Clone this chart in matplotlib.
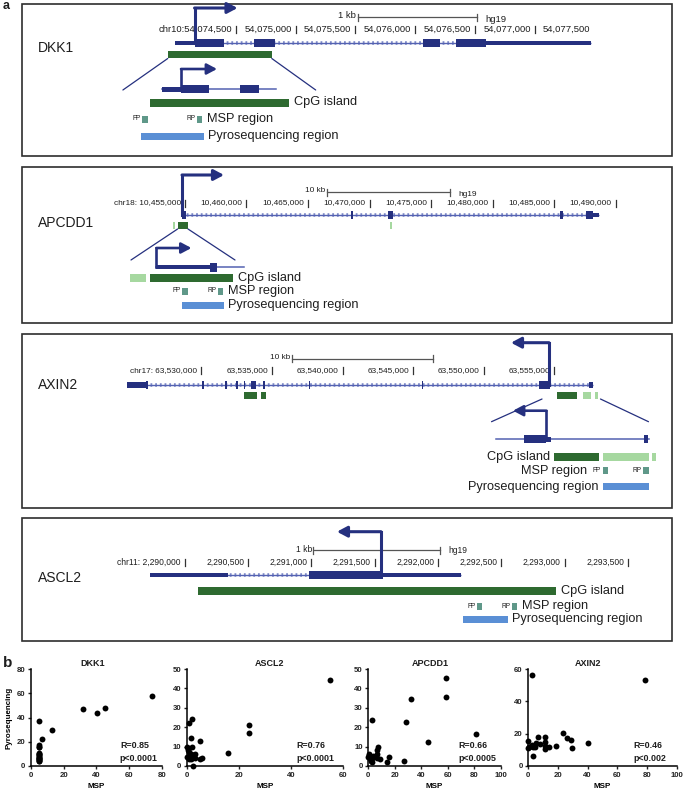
import numpy as np
import matplotlib
matplotlib.use('Agg')
import matplotlib.pyplot as plt
from matplotlib.patches import Rectangle, ConnectionPatch
from matplotlib import font_manager

# ======================= DATA =======================
# ---- panel a : gene models, hg19 coordinates (bp) ----
DKK1_TICKS = [54074500, 54075000, 54075500, 54076000, 54076500, 54077000, 54077500]
DKK1_GENE = (54073990, 54077470)
DKK1_UTR = [(54073990, 54074155), (54076592, 54077470)]
DKK1_EXONS = [(54074155, 54074400), (54074655, 54074824), (54076065, 54076207), (54076338, 54076592)]
DKK1_CPG = [(54073931, 54074801)]
DKK1_TSS = 54074155
DKK1_SCALEBAR = (54075520, 1000)
DKK1_ZOOM = (54073673, 54075285)
DKK1_ZOOM_FROM = (54073931, 54074801)
DKK1_ZOOM_GENE = (54074003, 54074956)
DKK1_ZOOM_UTR = [(54074003, 54074159)]
DKK1_ZOOM_EXONS = [(54074159, 54074397), (54074648, 54074809)]
DKK1_ZOOM_TSS = 54074159
DKK1_ZOOM_CPG = [(54073898, 54075060)]
DKK1_FP = (54073833, 54073880)
DKK1_RP = (54074293, 54074337)
DKK1_PYRO_REGION = (54073823, 54074348)

APCDD1_TICKS = [10455000, 10460000, 10465000, 10470000, 10475000, 10480000, 10485000, 10490000]
APCDD1_GENE = (10454773, 10488628)
APCDD1_UTR = [(10488149, 10488628)]
APCDD1_EXONS = [(10454773, 10455073), (10468480, 10468620), (10471461, 10471908),
                (10485470, 10485714), (10487556, 10488149)]
APCDD1_CPG = [(10454415, 10455260)]
APCDD1_CPG_LIGHT = [(10454042, 10454204), (10471664, 10471826)]
APCDD1_TSS = 10454773
APCDD1_SCALEBAR = (10466548, 10000)
APCDD1_ZOOM = (10454224, 10455283)
APCDD1_ZOOM_FROM = (10454415, 10455260)
APCDD1_ZOOM_GENE = (10454483, 10455374)
APCDD1_ZOOM_UTR = [(10454483, 10455028)]
APCDD1_ZOOM_EXONS = [(10455028, 10455099)]
APCDD1_ZOOM_TSS = 10454483
APCDD1_ZOOM_CPG = [(10454415, 10455260)]
APCDD1_ZOOM_CPG_LIGHT = [(10454209, 10454376)]
APCDD1_FP = (10454748, 10454804)
APCDD1_RP = (10455110, 10455160)
APCDD1_PYRO_REGION = (10454748, 10455169)

AXIN2_TICKS = [63530000, 63535000, 63540000, 63545000, 63550000, 63555000]
AXIN2_GENE = (63524703, 63557741)
AXIN2_UTR = [(63524703, 63526100), (63557458, 63557741)]
AXIN2_EXONS = [(63526100, 63526250), (63530040, 63530160), (63531690, 63531810), (63532470, 63532590),
               (63533000, 63533120), (63533506, 63533874), (63534360, 63534480), (63537600, 63537720),
               (63545600, 63545720), (63553916, 63554695)]
AXIN2_CPG = [(63533024, 63533973), (63534200, 63534611), (63555191, 63556586)]
AXIN2_CPG_LIGHT = [(63557000, 63557600), (63557850, 63558100)]
AXIN2_TSS = 63554624
AXIN2_SCALEBAR = (63536423, 10000)
AXIN2_ZOOM = (63553775, 63557918)
AXIN2_ZOOM_FROM = (63554130, 63558270)
AXIN2_ZOOM_GENE = (63553894, 63557918)
AXIN2_ZOOM_UTR = [(63555226, 63555345)]
AXIN2_ZOOM_EXONS = [(63554633, 63555226), (63557800, 63557918)]
AXIN2_ZOOM_TSS = 63555226
AXIN2_ZOOM_CPG = [(63555424, 63556612)]
AXIN2_ZOOM_CPG_LIGHT = [(63556730, 63557918), (63558010, 63558129)]
AXIN2_FP = (63556709, 63556849)
AXIN2_RP = (63557772, 63557918)
AXIN2_PYRO_REGION = (63556730, 63557918)

ASCL2_TICKS = [2290000, 2290500, 2291000, 2291500, 2292000, 2292500, 2293000, 2293500]
ASCL2_GENE = (2289723, 2292178)
ASCL2_UTR = [(2289723, 2290343), (2291565, 2292178)]
ASCL2_EXONS = [(2290980, 2291565)]
ASCL2_TSS = 2291549
ASCL2_SCALEBAR = (2291016, 1000)
ASCL2_CPG = [(2290103, 2292929)]
ASCL2_FP = (2292308, 2292344)
ASCL2_RP = (2292584, 2292624)
ASCL2_PYRO_REGION = (2292196, 2292550)

# ---- panel b : methylation (%) MSP vs pyrosequencing ----
DKK1_MSP = [4.8] * 17 + [7, 13, 32, 40.5, 45.5, 74]
DKK1_PYRO = [37.5, 17, 16, 15.5, 11, 10, 9.5, 9, 8, 7.5, 7, 6.5, 6, 5.5, 5, 4.5, 4,
             22, 29.5, 47, 44, 47.5, 58]
ASCL2_MSP = [55, 24, 24, 16, 2, 0.7, 1.5, 5, 0, 2, 0.5, 1, 1.5, 2.5, 3, 0.8, 2, 3.2, 1, 2.5, 5, 5.8, 0.3, 1.8]
ASCL2_PYRO = [44.5, 21, 17, 6.5, 24, 22, 14.5, 12.8, 10, 9.8, 8, 7, 6, 5.5, 6, 5, 4, 4.2, 3.8, 0.2, 3.8, 4, 4.5, 3.5]
APCDD1_MSP = [59, 58.5, 32, 3, 28.5, 81, 45, 27, 14, 16, 7, 6.8, 6.8, 6.3, 8.8, 0, 0.8, 1.8, 3, 2.5, 1.3, 3.8, 0.5, 2]
APCDD1_PYRO = [45.3, 35.8, 34.5, 23.5, 22.7, 16.3, 12.2, 2.5, 2.3, 4.7, 9.8, 8.2, 6.1, 3.9, 3.4, 4.8, 6.1, 3, 4, 2.2, 4.3, 5.1, 5.5, 2.8]
AXIN2_MSP = [2.2, 78.5, 23.5, 26, 29, 29.5, 40, 19, 14, 6.5, 11.5, 11.5, 11.5, 11, 7.7, 5.5, 0, 0.4, 2.2, 0, 4.4, 3.3, 1.5, 3]
AXIN2_PYRO = [56, 53.2, 20.2, 17.5, 16, 11, 14, 12.2, 11.6, 18.2, 18.2, 14.6, 12.6, 10.8, 13.6, 14.2, 15.6, 12, 13, 11.4, 11.6, 6.2, 12.5, 11.8]
STATS = {'DKK1': ('0.85', '0.0001'), 'ASCL2': ('0.76', '0.0001'),
         'APCDD1': ('0.66', '0.0005'), 'AXIN2': ('0.46', '0.002')}

# ======================= STYLE =======================
W, H = 685, 795
NAVY = '#25307f'
INTRON_C = '#5462b2'
HATCH_C = '#7e8ac8'
CPG_DARK = '#2e6a30'
CPG_LIGHT = '#a6d8a0'
PRIMER_C = '#5f9889'
PYRO_C = '#5a8fd5'
TXT = '#1e1e1e'
GRAY = '#555555'


def font_ok(name):
    try:
        font_manager.findfont(font_manager.FontProperties(family=name), fallback_to_default=False)
        return True
    except Exception:
        return False


SANS = 'Liberation Sans' if font_ok('Liberation Sans') else 'DejaVu Sans'
HAS_NARROW = font_ok('Liberation Sans Narrow')
NARROW = 'Liberation Sans Narrow' if HAS_NARROW else SANS
NSCALE = 1.0 if HAS_NARROW else 0.83
plt.rcParams['font.family'] = [SANS, 'DejaVu Sans']
plt.rcParams['text.color'] = TXT

LAB_FS = 9.2
GENE_FS = 10

fig = plt.figure(figsize=(W / 100, H / 100), dpi=100)
bg = fig.add_axes([0, 0, 1, 1])
bg.set_xlim(0, W)
bg.set_ylim(H, 0)
bg.set_axis_off()

BOX_L, BOX_R = 22, 672


def panel_axes(top, bottom, ref, ref_px, px_per_bp):
    xlim = (ref - (ref_px - BOX_L) / px_per_bp, ref + (BOX_R - ref_px) / px_per_bp)
    ax = fig.add_axes([BOX_L / W, 1 - bottom / H, (BOX_R - BOX_L) / W, (bottom - top) / H])
    ax.set_xlim(*xlim)
    ax.set_ylim(bottom, top)
    ax.set_axis_off()
    ax.patch.set_alpha(0)
    bg.add_patch(Rectangle((BOX_L, top), BOX_R - BOX_L, bottom - top, fill=False,
                           edgecolor='#2e2e2e', lw=1.2))
    return ax


def zoom_axes(top, bottom, window, px0, px1):
    ax = fig.add_axes([px0 / W, 1 - bottom / H, (px1 - px0) / W, (bottom - top) / H])
    ax.set_xlim(*window)
    ax.set_ylim(bottom, top)
    ax.set_axis_off()
    ax.patch.set_alpha(0)
    return ax


def bpp(ax):
    x0, x1 = ax.get_xlim()
    return (x1 - x0) / (ax.get_position().width * W)


def rect(ax, a, b, y, h, color, z=3, minw=1.8):
    w = max(b - a, minw * bpp(ax))
    ax.add_patch(Rectangle((a, y - h / 2), w, h, facecolor=color, edgecolor='none',
                           zorder=z, clip_on=False))


def intron(ax, a, b, y):
    ax.plot([a, b], [y, y], color=HATCH_C, lw=2.6, dashes=(0.5, 0.8), zorder=2,
            dash_capstyle='butt', clip_on=False)
    ax.plot([a, b], [y, y], color=INTRON_C, lw=1.0, zorder=2, solid_capstyle='butt', clip_on=False)


def draw_gene(ax, span, utrs, exons, y, hatched=True, exon_h=8, utr_h=4.5):
    if hatched:
        intron(ax, span[0], span[1], y)
    else:
        ax.plot(span, [y, y], color=INTRON_C, lw=1.1, zorder=2, clip_on=False)
    for a, b in utrs:
        rect(ax, a, b, y, utr_h, NAVY)
    for a, b in exons:
        rect(ax, a, b, y, exon_h, NAVY)


def tss(ax, x, y0, y1, strand, length_px, lw):
    b = bpp(ax)
    ax.plot([x, x], [y0, y1], color=NAVY, lw=lw, solid_capstyle='projecting', zorder=5, clip_on=False)
    ax.annotate('', xy=(x + strand * length_px * b, y1), xytext=(x, y1),
                arrowprops=dict(arrowstyle='-|>,head_length=0.6,head_width=0.32', lw=lw,
                                color=NAVY, shrinkA=0, shrinkB=0), zorder=5, annotation_clip=False)


def coords(ax, ticks, chrom, y, fs, last_tick=True):
    b = bpp(ax)
    for i, t in enumerate(ticks):
        s = f"{t:,}"
        if i == 0:
            s = chrom + s
        ax.text(t - 4 * b, y, s, ha='right', va='center', fontsize=fs * NSCALE, family=NARROW)
        if i < len(ticks) - 1 or last_tick:
            ax.plot([t, t], [y - 3.5, y + 3.5], color='#333333', lw=0.9)


def scalebar(ax, sb, label, y, fs, hg19=True, hg_dy=3):
    b = bpp(ax)
    start, length = sb
    ax.plot([start, start + length], [y, y], color=GRAY, lw=0.9)
    for xx in (start, start + length):
        ax.plot([xx, xx], [y - 3.5, y + 3.5], color=GRAY, lw=0.9)
    ax.text(start - 1.5 * b, y - 1, label, ha='right', va='center', fontsize=fs * NSCALE, family=NARROW)
    if hg19:
        ax.text(start + length + 8 * b, y + hg_dy, 'hg19', ha='left', va='center',
                fontsize=fs * NSCALE, family=NARROW)


def region_rows(ax, cpg, cpg_light, fp, rp, pyro, y_cpg, y_msp, y_pyro, labels_left=False):
    b = bpp(ax)
    for a, c in cpg:
        rect(ax, a, c, y_cpg, 8, CPG_DARK)
    for a, c in cpg_light:
        rect(ax, a, c, y_cpg, 8, CPG_LIGHT)
    for (a, c), nm in ((fp, 'FP'), (rp, 'RP')):
        rect(ax, a, c, y_msp, 7, PRIMER_C)
        ax.text(a - 1.5 * b, y_msp, nm, ha='right', va='center', fontsize=4.8)
    rect(ax, pyro[0], pyro[1], y_pyro, 7, PYRO_C)
    if labels_left:
        ax.text(cpg[0][0] - 4 * b, y_cpg, 'CpG island', ha='right', va='center', fontsize=LAB_FS)
        ax.text(fp[0] - 16 * b, y_msp, 'MSP region', ha='right', va='center', fontsize=LAB_FS)
        ax.text(pyro[0] - 5 * b, y_pyro, 'Pyrosequencing region', ha='right', va='center', fontsize=LAB_FS)
    else:
        cend = max(c for a, c in cpg)
        ax.text(cend + 5 * b, y_cpg, 'CpG island', ha='left', va='center', fontsize=LAB_FS)
        ax.text(rp[1] + 5 * b, y_msp, 'MSP region', ha='left', va='center', fontsize=LAB_FS)
        ax.text(pyro[1] + 4 * b, y_pyro, 'Pyrosequencing region', ha='left', va='center', fontsize=LAB_FS)


def zoom_lines(ax_main, ax_zoom, src, y_src, y_dst):
    for gs, gd in zip(src, ax_zoom.get_xlim()):
        con = ConnectionPatch(xyA=(gs, y_src), coordsA=ax_main.transData,
                              xyB=(gd, y_dst), coordsB=ax_zoom.transData,
                              color=NAVY, lw=0.9, zorder=1)
        fig.add_artist(con)


bg.text(3, 6, 'a', fontsize=9, fontweight='bold', va='center', ha='left')

# ---------------- DKK1 ----------------
ax = panel_axes(4, 156, DKK1_TICKS[0], 235.8, 0.1196)
bg.text(38, 48, 'DKK1', fontsize=GENE_FS, va='center')
coords(ax, DKK1_TICKS, 'chr10:', 29, 8.2, last_tick=False)
scalebar(ax, DKK1_SCALEBAR, '1 kb', 17, 8.2)
draw_gene(ax, DKK1_GENE, DKK1_UTR, DKK1_EXONS, 43)
for a, c in DKK1_CPG:
    rect(ax, a, c, 54.5, 7.5, CPG_DARK)
tss(ax, DKK1_TSS, 43, 8, +1, 43, 2.2)
az = zoom_axes(4, 156, DKK1_ZOOM, 122.9, 315.7)
zoom_lines(ax, az, DKK1_ZOOM_FROM, 58.5, 90)
draw_gene(az, DKK1_ZOOM_GENE, DKK1_ZOOM_UTR, DKK1_ZOOM_EXONS, 89, hatched=False, utr_h=5)
tss(az, DKK1_ZOOM_TSS, 89, 69, +1, 36, 1.9)
region_rows(az, DKK1_ZOOM_CPG, [], DKK1_FP, DKK1_RP, DKK1_PYRO_REGION, 102.5, 119, 136.4)

# ---------------- APCDD1 ----------------
ax = panel_axes(167, 323, APCDD1_TICKS[0], 184.8, 0.012314)
bg.text(38, 223, 'APCDD1', fontsize=GENE_FS, va='center')
coords(ax, APCDD1_TICKS, 'chr18: ', 203, 7.2)
scalebar(ax, APCDD1_SCALEBAR, '10 kb', 192, 7.2)
draw_gene(ax, APCDD1_GENE, APCDD1_UTR, APCDD1_EXONS, 215)
for a, c in APCDD1_CPG:
    rect(ax, a, c, 225, 7, CPG_DARK)
for a, c in APCDD1_CPG_LIGHT:
    rect(ax, a, c, 225, 7, CPG_LIGHT)
tss(ax, APCDD1_TSS, 215, 175, +1, 42, 2.2)
az = zoom_axes(167, 323, APCDD1_ZOOM, 131, 235)
zoom_lines(ax, az, APCDD1_ZOOM_FROM, 229, 260)
draw_gene(az, APCDD1_ZOOM_GENE, APCDD1_ZOOM_UTR, APCDD1_ZOOM_EXONS, 267, hatched=False, utr_h=4, exon_h=9)
tss(az, APCDD1_ZOOM_TSS, 267, 248, +1, 35, 1.9)
region_rows(az, APCDD1_ZOOM_CPG, APCDD1_ZOOM_CPG_LIGHT, APCDD1_FP, APCDD1_RP, APCDD1_PYRO_REGION,
            277.5, 291, 305)

# ---------------- AXIN2 ----------------
ax = panel_axes(334, 508, AXIN2_TICKS[0], 201.3, 0.01412)
bg.text(38, 385, 'AXIN2', fontsize=GENE_FS, va='center')
coords(ax, AXIN2_TICKS, 'chr17: ', 371, 7.2)
scalebar(ax, AXIN2_SCALEBAR, '10 kb', 359, 7.2, hg19=False)
draw_gene(ax, AXIN2_GENE, AXIN2_UTR, AXIN2_EXONS, 385, utr_h=5.5)
for a, c in AXIN2_CPG:
    rect(ax, a, c, 395, 7, CPG_DARK)
for a, c in AXIN2_CPG_LIGHT:
    rect(ax, a, c, 395, 7, CPG_LIGHT)
tss(ax, AXIN2_TSS, 385, 342.7, -1, 38, 2.2)
az = zoom_axes(334, 508, AXIN2_ZOOM, 491.5, 648.5)
zoom_lines(ax, az, AXIN2_ZOOM_FROM, 399, 421.7)
draw_gene(az, AXIN2_ZOOM_GENE, AXIN2_ZOOM_UTR, AXIN2_ZOOM_EXONS, 439, hatched=False, utr_h=5)
tss(az, AXIN2_ZOOM_TSS, 439, 410.7, -1, 33.5, 1.9)
region_rows(az, AXIN2_ZOOM_CPG, AXIN2_ZOOM_CPG_LIGHT, AXIN2_FP, AXIN2_RP, AXIN2_PYRO_REGION,
            456.7, 470.7, 486.7, labels_left=True)

# ---------------- ASCL2 ----------------
ax = panel_axes(518, 641, ASCL2_TICKS[0], 184.9, 0.12657)
bg.text(38, 578, 'ASCL2', fontsize=GENE_FS, va='center')
coords(ax, ASCL2_TICKS, 'chr11: ', 562, 7.4)
scalebar(ax, ASCL2_SCALEBAR, '1 kb', 550, 7.4, hg_dy=0.5)
draw_gene(ax, ASCL2_GENE, ASCL2_UTR, ASCL2_EXONS, 575, exon_h=8.5, utr_h=4.5)
tss(ax, ASCL2_TSS, 575, 531.7, -1, 44, 2.2)
region_rows(ax, ASCL2_CPG, [], ASCL2_FP, ASCL2_RP, ASCL2_PYRO_REGION, 591, 606, 619)

# ======================= panel b =======================
bg.text(3, 663, 'b', fontsize=11, fontweight='bold', va='center', ha='left')
SC_BOTTOM, SC_TOP = 766, 669


def scatter_panel(px0, px1, xs, ys, xmax, xstep, ymax, ystep, title, title_frac, r_frac, ylabel=False):
    ax = fig.add_axes([px0 / W, 1 - SC_BOTTOM / H, (px1 - px0) / W, (SC_BOTTOM - SC_TOP) / H])
    ax.patch.set_alpha(0)
    ax.scatter(xs, ys, s=18, color='black', linewidths=0, clip_on=False, zorder=3)
    ax.set_xlim(0, xmax)
    ax.set_ylim(0, ymax)
    ax.set_xticks(np.arange(0, xmax + 1, xstep))
    ax.set_yticks(np.arange(0, ymax + 1, ystep))
    for sp in ('top', 'right'):
        ax.spines[sp].set_visible(False)
    for sp in ('left', 'bottom'):
        ax.spines[sp].set_linewidth(1.1)
    ax.tick_params(direction='out', length=2.5, width=1.0, labelsize=5.6, pad=1.5, colors='#222222')
    for lab in ax.get_xticklabels() + ax.get_yticklabels():
        lab.set_fontweight('bold')
    ax.set_xlabel('MSP', fontsize=5.8, fontweight='bold', labelpad=3)
    if ylabel:
        ax.set_ylabel('Pyrosequencing', fontsize=5.8, fontweight='bold', labelpad=3)
    ax.text(title_frac, 1.06, title, transform=ax.transAxes, ha='center', va='center',
            fontsize=6.5, fontweight='bold')
    r, p = STATS[title]
    ax.text(r_frac, 0.21, f'R={r}', transform=ax.transAxes, ha='left', va='center',
            fontsize=6.4, fontweight='bold')
    ax.text(r_frac, 0.075, f'p<{p}', transform=ax.transAxes, ha='left', va='center',
            fontsize=6.4, fontweight='bold')
    return ax


scatter_panel(31, 161.7, DKK1_MSP, DKK1_PYRO, 80, 20, 80, 20, 'DKK1', 0.474, 0.68, ylabel=True)
scatter_panel(186.7, 343, ASCL2_MSP, ASCL2_PYRO, 60, 20, 50, 10, 'ASCL2', 0.533, 0.70)
scatter_panel(368.3, 500.7, APCDD1_MSP, APCDD1_PYRO, 100, 20, 50, 10, 'APCDD1', 0.466, 0.68)
scatter_panel(528.3, 676.7, AXIN2_MSP, AXIN2_PYRO, 100, 20, 60, 20, 'AXIN2', 0.40, 0.705)

fig.savefig('out.png', dpi=100)
